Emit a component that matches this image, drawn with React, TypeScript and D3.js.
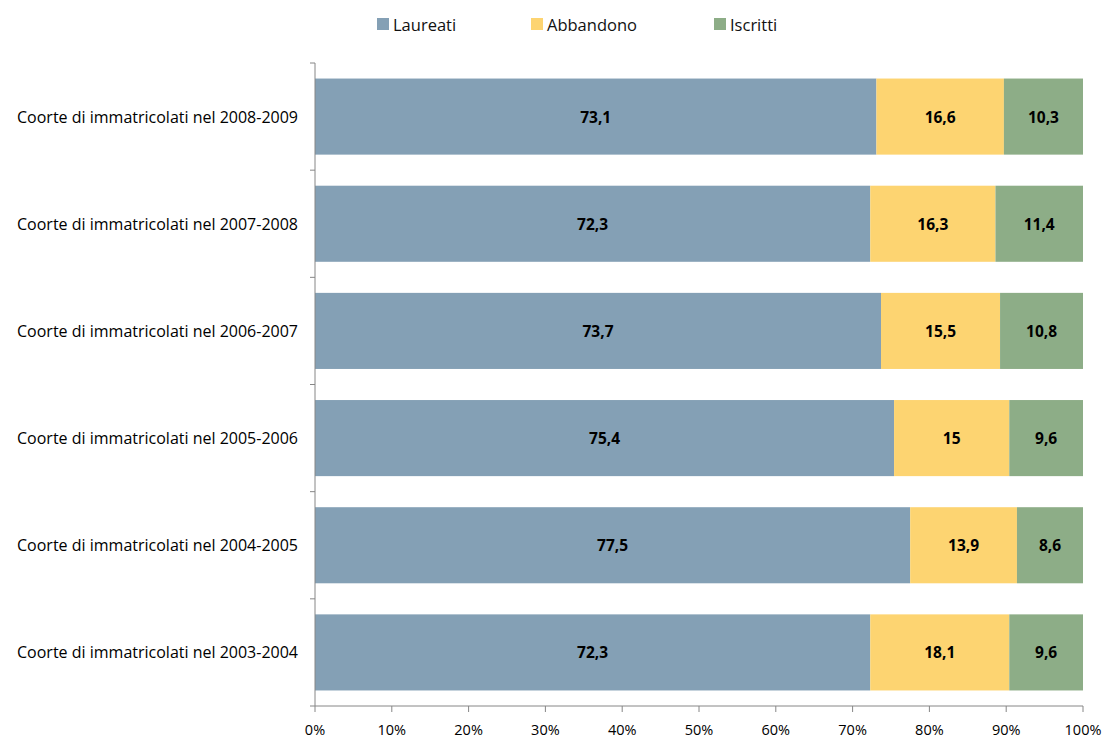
import React from "react";
import * as d3 from "d3";

const categories = [
  "Coorte di immatricolati nel 2008-2009",
  "Coorte di immatricolati nel 2007-2008",
  "Coorte di immatricolati nel 2006-2007",
  "Coorte di immatricolati nel 2005-2006",
  "Coorte di immatricolati nel 2004-2005",
  "Coorte di immatricolati nel 2003-2004",
];
const laureati = [73.1, 72.3, 73.7, 75.4, 77.5, 72.3];
const abbandono = [16.6, 16.3, 15.5, 15, 13.9, 18.1];
const iscritti = [10.3, 11.4, 10.8, 9.6, 8.6, 9.6];
const seriesNames = ["Laureati", "Abbandono", "Iscritti"];
const colors = ["#84A0B5", "#FDD471", "#8DAD87"];
const xTicks = [0, 10, 20, 30, 40, 50, 60, 70, 80, 90, 100];

const fmt = (v: number) => String(v).replace(".", ",");

export default function App() {
  const W = 1103, H = 740;
  const left = 315, right = 1083, top = 63, bottom = 706;
  const x = d3.scaleLinear().domain([0, 100]).range([left, right]);
  const y = d3.scaleBand().domain(categories).range([top, bottom]).paddingInner(0.29).paddingOuter(0.145);
  const series = [laureati, abbandono, iscritti];
  const font = "'Open Sans', 'Noto Sans', sans-serif";
  const boundaries = d3.range(categories.length + 1).map((i) => top + (i * (bottom - top)) / categories.length);
  const legendX = [377, 531, 714];

  return (
    <svg width={W} height={H} style={{ position: "absolute", left: 0, top: 0 }} fontFamily={font}>
      <rect width={W} height={H} fill="#fff" />
      {/* legend */}
      {seriesNames.map((n, i) => (
        <g key={n}>
          <rect x={legendX[i]} y={18} width={12} height={12} fill={colors[i]} />
          <text x={legendX[i] + 16} y={31} fontSize={16.5} fill="#111">{n}</text>
        </g>
      ))}
      {/* bars */}
      {categories.map((c, ci) => {
        let acc = 0;
        return (
          <g key={c}>
            {series.map((s, si) => {
              const x0 = x(acc);
              acc += s[ci];
              const x1 = x(acc);
              const yy = y(c)!;
              return (
                <g key={si}>
                  <rect x={x0} y={yy} width={x1 - x0} height={y.bandwidth()} fill={colors[si]} />
                  <text x={(x0 + x1) / 2} y={yy + y.bandwidth() / 2 + 6} textAnchor="middle" fontSize={15.5} fontWeight="bold" fill="#000">
                    {fmt(s[ci])}
                  </text>
                </g>
              );
            })}
            <text x={298} y={y(c)! + y.bandwidth() / 2 + 6} textAnchor="end" fontSize={16} fill="#000">{c}</text>
          </g>
        );
      })}
      {/* y axis */}
      <line x1={left} x2={left} y1={top} y2={bottom} stroke="#868686" />
      {boundaries.map((b, i) => (
        <line key={i} x1={left - 5} x2={left} y1={b} y2={b} stroke="#868686" />
      ))}
      {/* x axis */}
      <line x1={left} x2={right} y1={bottom} y2={bottom} stroke="#868686" />
      {xTicks.map((t) => (
        <g key={t}>
          <line x1={x(t)} x2={x(t)} y1={bottom} y2={bottom + 6} stroke="#868686" />
          <text x={x(t)} y={735} textAnchor="middle" fontSize={14.5} fill="#000">{t}%</text>
        </g>
      ))}
    </svg>
  );
}
